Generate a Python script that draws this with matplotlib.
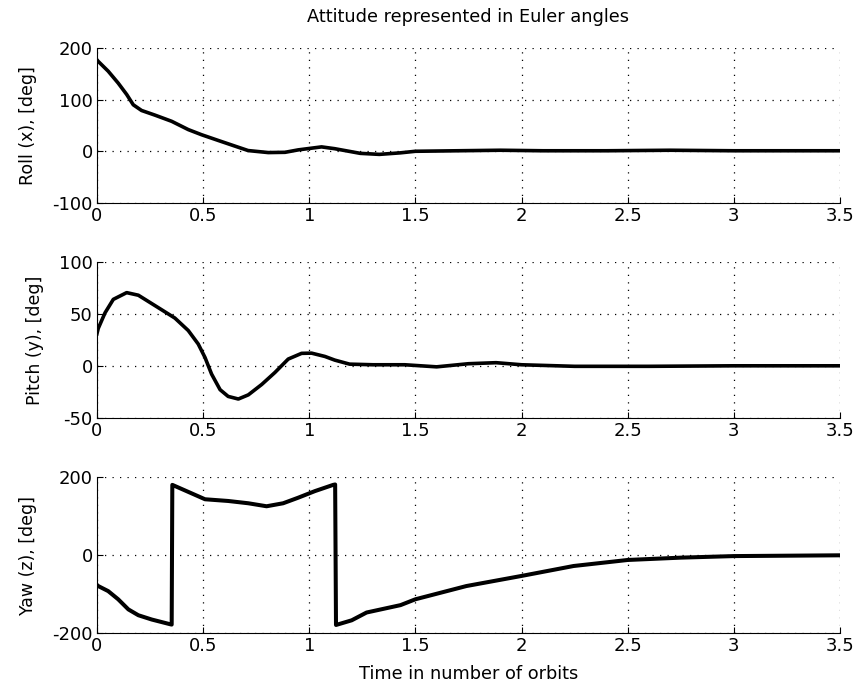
import matplotlib
matplotlib.use("Agg")
import numpy as np
import matplotlib.pyplot as plt

# values (time in orbits, angles in deg)
roll_t = [0, 0.006, 0.053, 0.10, 0.14, 0.171, 0.21, 0.273, 0.352, 0.43, 0.493, 0.571,
          0.65, 0.712, 0.807, 0.886, 0.948, 1.058, 1.12, 1.24, 1.33, 1.43, 1.5,
          1.7, 1.9, 2.1, 2.4, 2.7, 3.0, 3.3, 3.5]
roll = [177, 174, 155, 132, 110, 90, 79, 70, 58, 42, 32, 21,
        10, 1.4, -2.5, -2, 2.7, 8.5, 5, -4, -6, -3, 0,
        1, 2, 1, 1, 2, 1, 1, 1]

pitch_t = [0, 0.006, 0.038, 0.077, 0.14, 0.195, 0.289, 0.367, 0.43, 0.477, 0.509, 0.54,
           0.58, 0.618, 0.666, 0.713, 0.776, 0.838, 0.901, 0.964, 1.011, 1.074, 1.12,
           1.19, 1.3, 1.45, 1.6, 1.75, 1.88, 2.0, 2.25, 2.6, 3.0, 3.5]
pitch = [31, 36, 51, 64, 70.5, 68, 56, 46, 34, 21, 8, -8,
         -23, -29.5, -32, -28, -18, -6.5, 6.5, 12, 12.2, 9, 5.5,
         1.6, 1, 1, -1, 2, 3, 1, -0.5, -0.5, 0, 0]

yaw_t = [0, 0.006, 0.053, 0.10, 0.148, 0.195, 0.258, 0.344, 0.352, 0.355, 0.43, 0.509,
         0.618, 0.713, 0.799, 0.877, 0.948, 1.027, 1.113, 1.122, 1.126, 1.2, 1.27,
         1.43, 1.5, 1.74, 2.0, 2.245, 2.5, 2.75, 3.0, 3.5]
yaw = [-76, -79, -92, -113, -139, -154, -165, -177, -178, 181, 163, 144,
       139.6, 133.7, 126, 133.7, 148, 165, 181, 182, -179, -167, -147,
       -128, -113, -79, -53, -27.5, -12, -6, -2, 0]

ylabels = ["Roll (x), [deg]", "Pitch (y), [deg]", "Yaw (z), [deg]"]
ylims = [(-100, 200), (-50, 100), (-200, 200)]
yticks = [[-100, 0, 100, 200], [-50, 0, 50, 100], [-200, 0, 200]]
xticks = [0, 0.5, 1, 1.5, 2, 2.5, 3, 3.5]
xticklabels = ["0", "0.5", "1", "1.5", "2", "2.5", "3", "3.5"]

plt.rcParams["font.family"] = ["DejaVu Sans"]
plt.rcParams["axes.unicode_minus"] = False

fig = plt.figure(figsize=(8.58, 6.95), dpi=100)
positions = [[0.113, 0.708, 0.866, 0.223],
             [0.113, 0.399, 0.866, 0.224],
             [0.113, 0.089, 0.866, 0.224]]
series = [(roll_t, roll), (pitch_t, pitch), (yaw_t, yaw)]

for i in range(3):
    ax = fig.add_axes(positions[i])
    t, v = series[i]
    ax.plot(t, v, color="black", linewidth=2.6 if i < 2 else 2.9,
            solid_joinstyle="round")
    ax.set_xlim(0, 3.5)
    ax.set_ylim(*ylims[i])
    ax.set_xticks(xticks)
    ax.set_xticklabels(xticklabels)
    ax.set_yticks(yticks[i])
    ax.set_ylabel(ylabels[i], fontsize=12.5, labelpad=11)
    ax.tick_params(direction="in", length=4, labelsize=13, pad=3)
    ax.spines["top"].set_visible(False)
    ax.spines["right"].set_visible(False)
    ax.grid(True, color="black", linestyle=(0, (1, 5)), linewidth=0.9)
    ax.set_axisbelow(True)
    if i == 0:
        ax.set_title("Attitude represented in Euler angles", fontsize=12.8, pad=19)
    if i == 2:
        ax.set_xlabel("Time in number of orbits", fontsize=12.8, labelpad=7)

fig.savefig("out.png", dpi=100)
